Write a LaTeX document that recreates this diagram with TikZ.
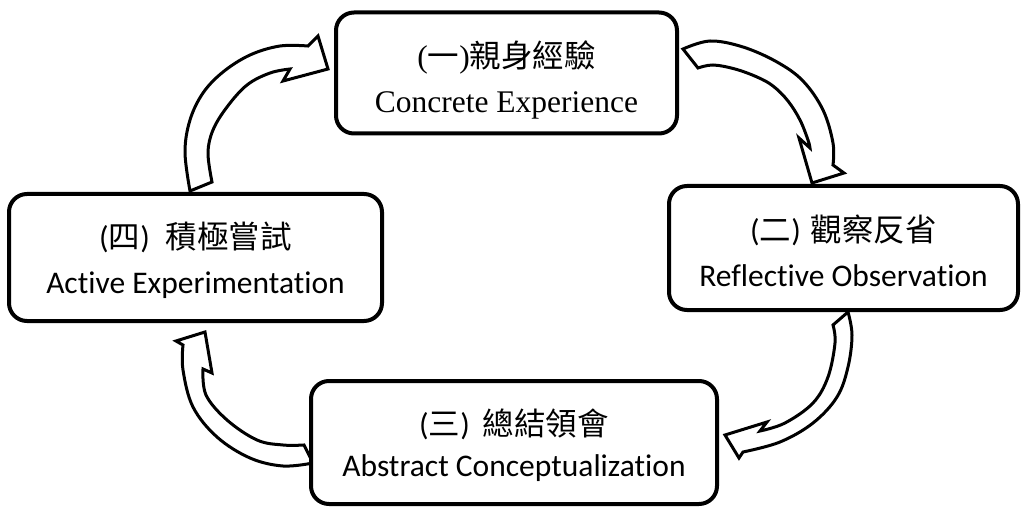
\documentclass[tikz,border=0pt]{standalone}
\usepackage{fontspec}
\setmainfont{Carlito}[Ligatures=NoCommon]
\newfontfamily\cjk{Noto Sans CJK TC}
\newfontfamily\tnr{Liberation Serif}
\begin{document}
\begin{tikzpicture}[x=1pt,y=-1pt,
  box/.style={draw, line width=4pt, rounded corners=18pt, fill=white, align=center,
    inner sep=0pt, font=\fontsize{31.5}{45}\selectfont},
  blockarrow/.style={draw, line width=3pt, fill=white, line join=miter}]
\useasboundingbox (0,0) rectangle (1021,508);

% arrow A: (四) -> (一)
\draw[blockarrow] (190,191) -- plot[smooth,tension=0.6] coordinates {(190,191) (185,152) (190,120) (203,93) (223,72) (250,55) (280,46) (308,46)}
  -- (318,36) -- (328,69) -- (283,81) -- (290,69)
  -- plot[smooth,tension=0.6] coordinates {(290,69) (270,73) (247,85) (227,107) (213,130) (208,153) (212,182)} -- cycle;

% arrow B: (一) -> (二)
\draw[blockarrow] (683,49) -- plot[smooth,tension=0.6] coordinates {(683,49) (710,41) (743,47) (777,62) (803,81) (823,110) (833,143) (833,165)}
  -- (844,173) -- (812,183) -- (799,138) -- (810,148)
  -- plot[smooth,tension=0.6] coordinates {(810,148) (808,140) (800,120) (788,101) (773,86) (757,77) (735,69) (713,65) (698,68)} -- cycle;

% arrow C: (二) -> (三)
\draw[blockarrow] (848,312) -- plot[smooth,tension=0.6] coordinates {(848,312) (852,335) (848,367) (837,397) (813,423) (780,442) (743,452)}
  -- (739,458) -- (725,435) -- (767,422) -- (760,431)
  -- plot[smooth,tension=0.6] coordinates {(760,431) (785,423) (813,403) (828,377) (835,343) (833,325)} -- cycle;

% arrow D: (三) -> (四)
\draw[blockarrow] (313,463) -- plot[smooth,tension=0.6] coordinates {(313,463) (283,466) (250,458) (217,437) (193,407) (183,370) (183,345)}
  -- (176,341) -- (205,332) -- (212,373) -- (203,369)
  -- plot[smooth,tension=0.6] coordinates {(203,369) (206,395) (227,420) (257,440) (283,445) (304,445)} -- cycle;

\node[box, minimum width=341pt, minimum height=121pt] (b1) at (506.5,73)
  {\rule{0pt}{41pt}{\tnr(}{\cjk 一}{\tnr)}{\cjk 親身經驗}\\{\tnr Concrete Experience}};
\node[box, minimum width=349pt, minimum height=124pt] (b2) at (843.5,248)
  {\rule{0pt}{32pt}({\cjk 二})\hspace{10pt}{\cjk 觀察反省}\\Reflective Observation};
\node[box, minimum width=406pt, minimum height=123pt, font=\fontsize{31.5}{41}\selectfont] (b3) at (514,442.5)
  {\rule{0pt}{32pt}({\cjk 三})\hspace{13pt}{\cjk 總結領會}\\Abstract Conceptualization};
\node[box, minimum width=373pt, minimum height=127pt] (b4) at (195.5,257.5)
  {\rule{0pt}{32pt}({\cjk 四})\hspace{16pt}{\cjk 積極嘗試}\\Active Experimentation};
\end{tikzpicture}
\end{document}
